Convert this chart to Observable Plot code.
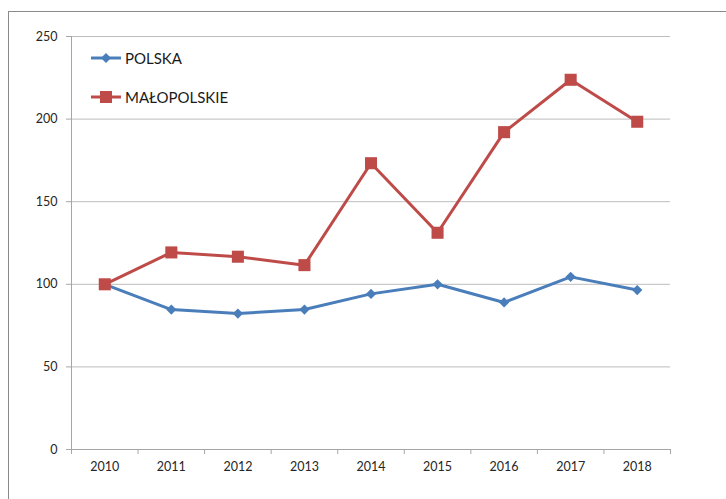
<!DOCTYPE html>
<html><head><meta charset="utf-8">
<script src="https://cdn.jsdelivr.net/npm/d3@7"></script>
<script src="https://cdn.jsdelivr.net/npm/@observablehq/plot@0.6"></script>
<style>
html,body{margin:0;padding:0;overflow:hidden;background:#fff;font-family:Lato,sans-serif}
#wrap{position:relative;width:726px;height:499px;overflow:hidden}
#frame{position:absolute;left:8px;top:11px;width:800px;height:600px;border:1px solid #8a8a8a;pointer-events:none}
.leg{position:absolute;left:91px;height:20px;display:flex;align-items:center;font-size:15px;color:#1a1a1a;white-space:nowrap}
.leg svg{margin-right:4px}
</style></head>
<body>
<div id="wrap"><div id="frame"></div><div id="chart"></div><div id="legend"></div></div>
<script>
const years = [2010, 2011, 2012, 2013, 2014, 2015, 2016, 2017, 2018];
const polska = [100, 84.7, 82.3, 84.7, 94.2, 100, 89.0, 104.5, 96.5];
const malopolskie = [100, 119.3, 116.7, 111.6, 173.3, 131.2, 192.1, 223.8, 198.4];
const yTicks = [0, 50, 100, 150, 200, 250];
const seriesNames = ["POLSKA", "MAŁOPOLSKIE"];
const colors = ["#4A7EBB", "#BE4B48"];
const symbols = ["diamond2", "square"];

const dataP = years.map((y, i) => ({year: y, value: polska[i]}));
const dataM = years.map((y, i) => ({year: y, value: malopolskie[i]}));
const boundaries = years.map(y => y - 0.5).concat([years[years.length - 1] + 0.5]);

const chart = Plot.plot({
  width: 726, height: 499,
  marginLeft: 71, marginRight: 56, marginTop: 36, marginBottom: 50,
  style: {fontFamily: "Lato, sans-serif", fontSize: "12.5px", background: "transparent"},
  x: {type: "linear", domain: [boundaries[0], boundaries[boundaries.length - 1]], label: null},
  y: {domain: [0, 250], label: null},
  marks: [
    Plot.gridY(yTicks.filter(v => v > 0), {stroke: "#bdbdbd", strokeOpacity: 1, strokeWidth: 1}),
    Plot.ruleY([0], {stroke: "#a6a6a6"}),
    Plot.ruleX([boundaries[0]], {stroke: "#a6a6a6"}),
    Plot.axisY({ticks: yTicks, tickSize: 5, tickPadding: 9, stroke: "#a6a6a6", fill: "#262626", tickFormat: d => String(d)}),
    Plot.axisX({ticks: boundaries, tickSize: 5, tickFormat: () => "", stroke: "#a6a6a6"}),
    Plot.axisX({ticks: years, tickSize: 0, tickPadding: 13, fill: "#262626", tickFormat: d => String(d)}),
    Plot.line(dataP, {x: "year", y: "value", stroke: colors[0], strokeWidth: 3}),
    Plot.dot(dataP, {x: "year", y: "value", symbol: symbols[0], r: 4.6, fill: colors[0], stroke: "none"}),
    Plot.line(dataM, {x: "year", y: "value", stroke: colors[1], strokeWidth: 3}),
    Plot.dot(dataM, {x: "year", y: "value", symbol: symbols[1], r: 6.8, fill: colors[1], stroke: "none"})
  ]
});
document.getElementById("chart").appendChild(chart);

const legend = document.getElementById("legend");
const legTops = [48, 87];
seriesNames.forEach((name, i) => {
  const div = document.createElement("div");
  div.className = "leg";
  div.style.top = legTops[i] + "px";
  const sym = i === 0
    ? `<path d="M15,5 L20,10 L15,15 L10,10 Z" fill="${colors[i]}"/>`
    : `<rect x="9" y="4" width="12" height="12" fill="${colors[i]}"/>`;
  div.innerHTML = `<svg width="30" height="20"><line x1="0" x2="30" y1="10" y2="10" stroke="${colors[i]}" stroke-width="3"/>${sym}</svg><span>${name}</span>`;
  legend.appendChild(div);
});
</script>
</body></html>
